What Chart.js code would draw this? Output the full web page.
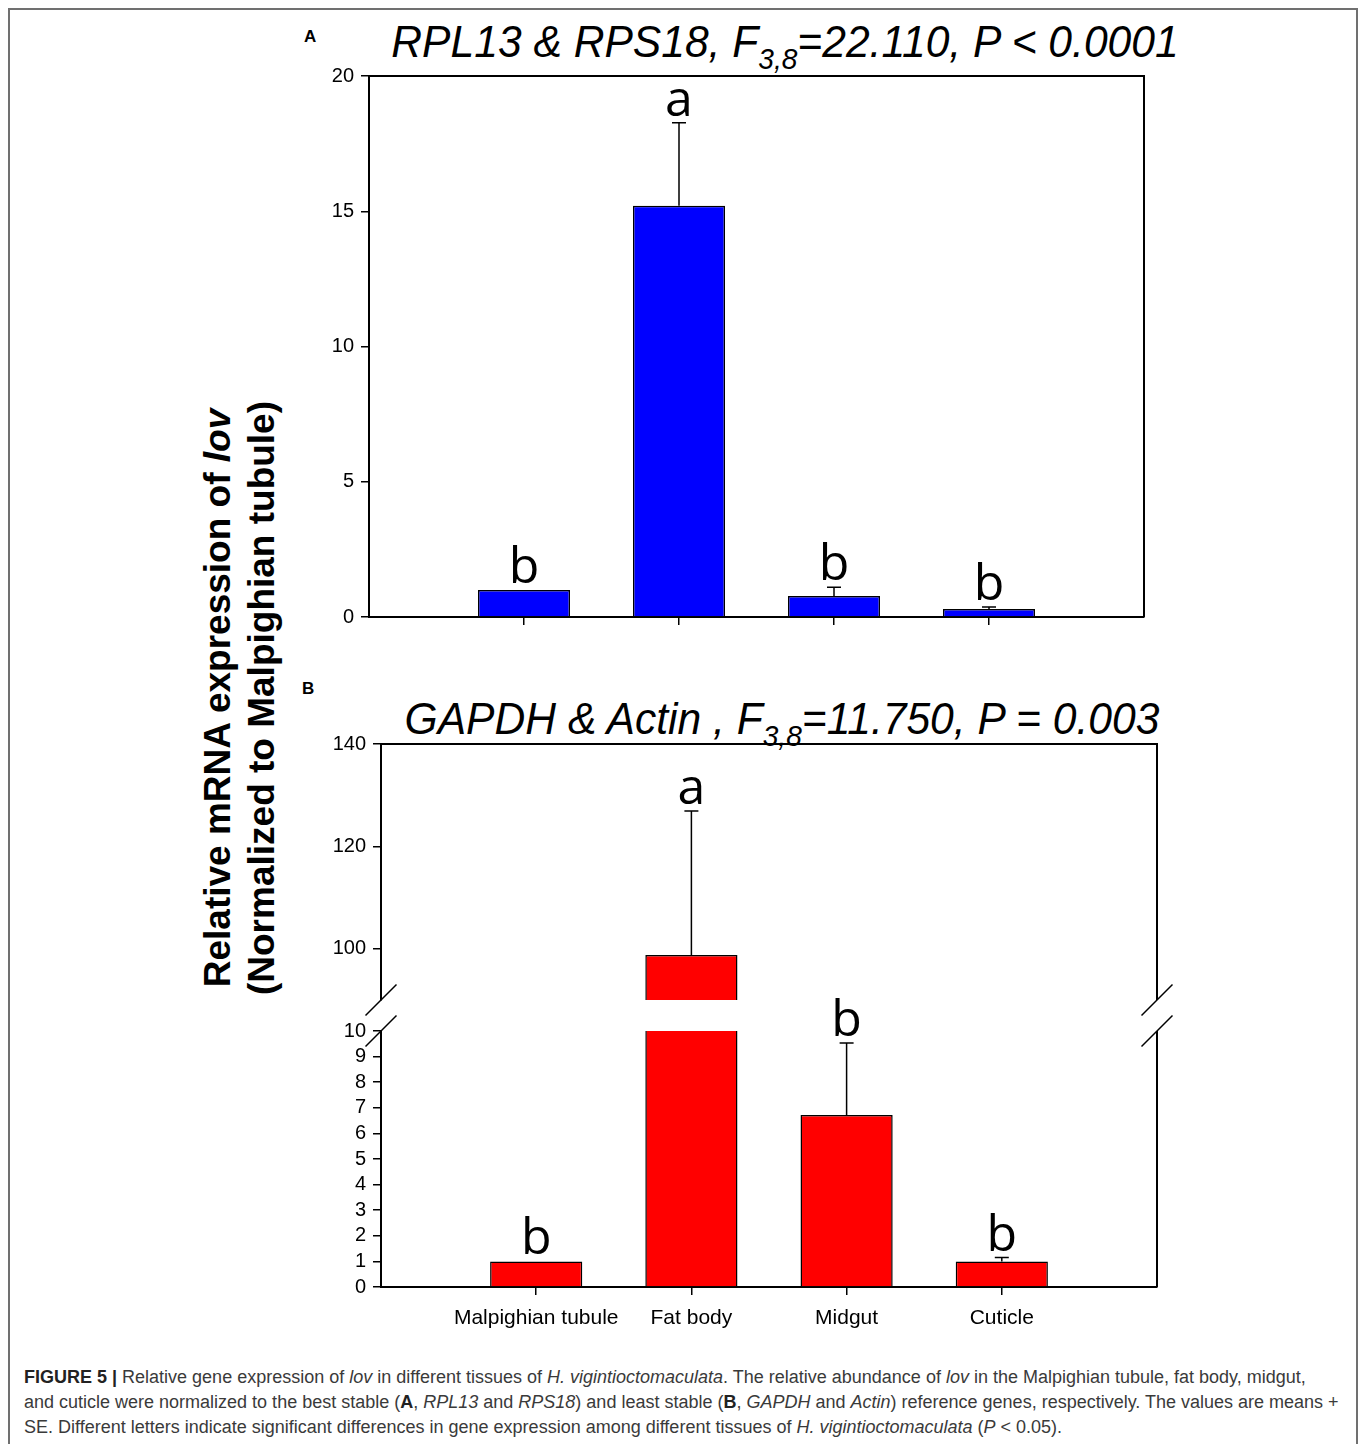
<!DOCTYPE html>
<html>
<head>
<meta charset="utf-8">
<script src="https://cdn.jsdelivr.net/npm/chart.js@4.4.1/dist/chart.umd.min.js"></script>
<style>
  body { margin: 0; background: #fff; width: 1360px; height: 1444px; position: relative; overflow: hidden;
         font-family: "Liberation Sans", Arial, sans-serif; }
  .frame { position: absolute; left: 8px; top: 8px; width: 1346px; height: 1500px; border: 2px solid #707070; border-bottom: none; }
  canvas { position: absolute; }
  .panel { position: absolute; font-weight: bold; font-size: 17px; }
  .title { position: absolute; font-style: italic; font-size: 44px; white-space: nowrap; color: #000;
           transform: translateX(-50%) scaleX(0.968); }
  .title sub { font-size: 29px; vertical-align: -12px; line-height: 0; }
  .ylabel { position: absolute; left: 240px; top: 698px; transform: translate(-50%, -50%) rotate(-90deg);
            font-weight: bold; font-size: 37px; line-height: 44px;
            text-align: center; white-space: nowrap; color: #000; }
  .caption { position: absolute; left: 24px; top: 1365px; font-size: 18px; line-height: 25px; color: #3a3a3a; white-space: nowrap; }
  .caption b { color: #222; }
</style>
</head>
<body>
<div class="frame"></div>

<div class="panel" style="left:304px; top:27px;">A</div>
<div class="title" style="left:785px; top:17px;">RPL13 &amp; RPS18, F<sub>3,8</sub>=22.110, P &lt; 0.0001</div>
<canvas id="chartA" width="900" height="583" style="left:300px; top:57px;"></canvas>

<div class="panel" style="left:302px; top:679px;">B</div>
<div class="title" style="left:782px; top:694px;">GAPDH &amp; Actin , F<sub>3,8</sub>=11.750, P = 0.003</div>
<canvas id="chartBTop" width="900" height="320" style="left:300px; top:700px;"></canvas>
<canvas id="chartBBottom" width="900" height="350" style="left:300px; top:990px;"></canvas>

<div class="ylabel">Relative mRNA expression of <i>lov</i><br>(Normalized to Malpighian tubule)</div>

<div class="caption">
<b>FIGURE 5 |</b> Relative gene expression of <i>lov</i> in different tissues of <i>H. vigintioctomaculata</i>. The relative abundance of <i>lov</i> in the Malpighian tubule, fat body, midgut,<br>
and cuticle were normalized to the best stable (<b>A</b>, <i>RPL13</i> and <i>RPS18</i>) and least stable (<b>B</b>, <i>GAPDH</i> and <i>Actin</i>) reference genes, respectively. The values are means +<br>
SE. Different letters indicate significant differences in gene expression among different tissues of <i>H. vigintioctomaculata</i> (<i>P</i> &lt; 0.05).
</div>

<script>
const tissues = ["Malpighian tubule", "Fat body", "Midgut", "Cuticle"];

// panel A: RPL13 & RPS18
const meanA = [1.0, 15.2, 0.78, 0.3];
const errA = [0, 3.07, 0.32, 0.07];
const lettersA = ["b", "a", "b", "b"];
const ticksA = [0, 5, 10, 15, 20];

// panel B: GAPDH & Actin (broken axis)
const meanB = [1.0, 98.8, 6.72, 1.0];
const errB = [0, 28.1, 2.81, 0.15];
const lettersB = ["b", "a", "b", "b"];
const ticksBTop = [100, 120, 140];
const ticksBBottom = [0, 1, 2, 3, 4, 5, 6, 7, 8, 9, 10];

const tickFont = { family: "'Liberation Sans', Arial, sans-serif", size: 20 };

function errorLetters(means, errors, letters) {
  return {
    id: "errorLetters",
    afterDatasetsDraw(chart) {
      const ctx = chart.ctx;
      const area = chart.chartArea;
      const y = chart.scales.y;
      const bars = chart.getDatasetMeta(0).data;

      ctx.save();
      ctx.beginPath();
      ctx.rect(area.left, area.top - 1, area.width, area.height + 2);
      ctx.clip();
      ctx.beginPath();
      ctx.strokeStyle = "#000";
      ctx.lineWidth = 1.5;
      bars.forEach((bar, i) => {
        if (!errors[i]) return;
        const yTop = y.getPixelForValue(means[i] + errors[i]);
        ctx.moveTo(bar.x, y.getPixelForValue(means[i]));
        ctx.lineTo(bar.x, yTop);
        ctx.moveTo(bar.x - 7, yTop);
        ctx.lineTo(bar.x + 7, yTop);
      });
      ctx.stroke();
      ctx.restore();

      ctx.save();
      ctx.fillStyle = "#000";
      ctx.font = "50px 'Open Sans', 'Noto Sans', sans-serif";
      ctx.textAlign = "center";
      ctx.textBaseline = "alphabetic";
      bars.forEach((bar, i) => {
        const yTop = y.getPixelForValue(means[i] + errors[i]);
        if (yTop < area.top - 1 || yTop > area.bottom + 1) return;
        ctx.fillText(letters[i], bar.x, yTop - 7);
      });
      ctx.restore();
    },
  };
}

function frameSides(sides, breakAt) {
  return {
    id: "frameSides",
    afterDraw(chart) {
      const ctx = chart.ctx;
      const { left, right, top, bottom } = chart.chartArea;
      ctx.save();
      ctx.strokeStyle = "#000";
      ctx.lineWidth = 2;
      ctx.beginPath();
      if (sides.includes("top")) { ctx.moveTo(left - 1, top); ctx.lineTo(right + 1, top); }
      if (sides.includes("right")) { ctx.moveTo(right, top); ctx.lineTo(right, bottom); }
      ctx.stroke();
      if (breakAt) {
        const yb = breakAt === "top" ? top : bottom;
        ctx.lineWidth = 1.5;
        ctx.beginPath();
        [left, right].forEach((x) => {
          ctx.moveTo(x - 15.5, yb + 15.5);
          ctx.lineTo(x + 15.5, yb - 15.5);
        });
        ctx.stroke();
      }
      ctx.restore();
    },
  };
}

function barChart(canvasId, means, color, cfg) {
  return new Chart(document.getElementById(canvasId), {
    type: "bar",
    data: {
      datasets: [
        {
          data: tissues.map((t, i) => ({ x: i + 1, y: means[i] })),
          backgroundColor: color,
          borderColor: "#000",
          borderWidth: 1.5,
          categoryPercentage: 1,
          barPercentage: 0.594,
          clip: 0,
        },
      ],
    },
    options: {
      responsive: false,
      animation: false,
      layout: { padding: cfg.padding },
      plugins: { legend: { display: false }, tooltip: { enabled: false } },
      scales: {
        x: {
          type: "linear",
          min: 0,
          max: tissues.length + 1,
          offset: false,
          display: cfg.showX,
          afterBuildTicks: (scale) => {
            scale.ticks = tissues.map((t, i) => ({ value: i + 1 }));
          },
          afterFit: (scale) => {
            scale.height = cfg.xHeight;
          },
          ticks: {
            display: cfg.xLabels,
            autoSkip: false,
            callback: (v) => tissues[v - 1] || "",
            color: "#000",
            font: { family: tickFont.family, size: 21 },
            padding: 11,
            maxRotation: 0,
          },
          grid: { offset: false, drawOnChartArea: false, drawTicks: true, tickLength: 8, color: "#000", lineWidth: 1.5 },
          border: { display: true, color: "#000", width: 2 },
        },
        y: {
          min: cfg.yMin,
          max: cfg.yMax,
          afterBuildTicks: (scale) => {
            scale.ticks = cfg.yTicks.map((v) => ({ value: v }));
          },
          afterFit: (scale) => {
            scale.width = cfg.yWidth;
          },
          ticks: { color: "#000", font: tickFont, padding: 7, autoSkip: false },
          grid: { drawOnChartArea: false, drawTicks: true, tickLength: 8, color: "#000", lineWidth: 1.5 },
          border: { display: true, color: "#000", width: 2 },
        },
      },
    },
    plugins: [errorLetters(means, cfg.errors, cfg.letters), frameSides(cfg.sides, cfg.breakAt)],
  });
}

barChart("chartA", meanA, "#0000ff", {
  padding: { top: 15, right: 56, bottom: 0, left: 0 },
  showX: true, xLabels: false, xHeight: 23, yWidth: 69,
  yMin: 0, yMax: 20, yTicks: ticksA,
  errors: errA, letters: lettersA, sides: ["top", "right"],
});

barChart("chartBTop", meanB, "#ff0000", {
  padding: { top: 44, right: 43, bottom: 20, left: 0 },
  showX: false, xLabels: false, xHeight: 0, yWidth: 81,
  yMin: 90, yMax: 140, yTicks: ticksBTop,
  errors: errB, letters: lettersB, sides: ["top", "right"], breakAt: "bottom",
});

barChart("chartBBottom", meanB, "#ff0000", {
  padding: { top: 41, right: 43, bottom: 0, left: 0 },
  showX: true, xLabels: true, xHeight: 53, yWidth: 81,
  yMin: 0, yMax: 10, yTicks: ticksBBottom,
  errors: errB, letters: lettersB, sides: ["right"], breakAt: "top",
});
</script>
</body>
</html>
